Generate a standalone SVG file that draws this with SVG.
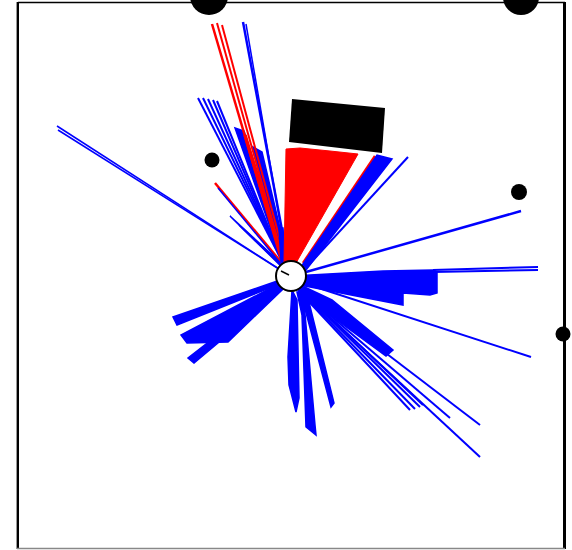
<svg xmlns="http://www.w3.org/2000/svg" width="572" height="550" viewBox="0 0 572 550">
<style>
.b{stroke:#0000ff;fill:none;stroke-linecap:butt}
.r{stroke:#ff0000;fill:none}
.bf{fill:#0000ff;stroke:#0000ff;stroke-width:1.5}
.rf{fill:#ff0000;stroke:#ff0000;stroke-width:1}
.ob{fill:#000}
</style>
<rect width="572" height="550" fill="#fff"/>
<g id="frame">
<line x1="18" y1="2.5" x2="565" y2="2.5" stroke="#000" stroke-width="1.5"/>
<line x1="18" y1="2" x2="18" y2="549" stroke="#000" stroke-width="2"/>
<line x1="16.5" y1="2" x2="16.5" y2="549" stroke="#999" stroke-width="1"/>
<line x1="564.5" y1="2" x2="564.5" y2="549" stroke="#000" stroke-width="3"/>
<line x1="17" y1="548.5" x2="565" y2="548.5" stroke="#888" stroke-width="1.5"/>
</g>
<g id="obstacles">
<circle class="ob" cx="209" cy="-4" r="19"/>
<circle class="ob" cx="521" cy="-3" r="18"/>
<circle class="ob" cx="212" cy="160" r="7.5"/>
<circle class="ob" cx="519" cy="192" r="8"/>
<circle class="ob" cx="563" cy="334" r="7.5"/>
<polygon class="ob" points="292,99 385,108 382,153 289,142"/>
</g>
<g id="rays">
<!-- upper-left cluster -->
<line class="b" x1="290" y1="276" x2="57" y2="126" stroke-width="1.5"/>
<line class="b" x1="290" y1="276" x2="58" y2="130" stroke-width="1.5"/>
<polygon class="bf" points="286,268 230,216 236,222 287,272"/>
<polygon class="bf" points="286,268 239,225 244,230 287,271"/>
<line class="r" x1="286" y1="268" x2="215" y2="183" stroke-width="2.5"/>
<line class="b" x1="286" y1="270" x2="218" y2="188" stroke-width="1.5"/>
<line class="b" x1="284" y1="265" x2="198" y2="98" stroke-width="2"/>
<line class="b" x1="284" y1="265" x2="203" y2="98" stroke-width="2"/>
<line class="b" x1="284" y1="265" x2="208" y2="99" stroke-width="2"/>
<line class="b" x1="284" y1="265" x2="213" y2="100" stroke-width="2"/>
<line class="b" x1="284" y1="265" x2="217" y2="101" stroke-width="2"/>
<polygon class="bf" points="283,264 235,128 244,131 287,264"/>
<polygon class="bf" points="284,262 253,147 262,152 288,262"/>
<line class="r" x1="282" y1="262" x2="212" y2="24" stroke-width="2.5"/>
<line class="r" x1="284" y1="262" x2="217" y2="23" stroke-width="2"/>
<line class="r" x1="286" y1="262" x2="222" y2="25" stroke-width="2"/>
<line class="r" x1="282" y1="258" x2="245" y2="135" stroke-width="3.5"/>
<line class="b" x1="288" y1="262" x2="243" y2="22" stroke-width="2.5"/>
<line class="b" x1="287" y1="262" x2="246" y2="24" stroke-width="1.5"/>
<polygon class="bf" points="281,262 279,228 283,228 285,262"/>
<!-- red wedge and upper right -->
<polygon class="rf" points="286,149 300,148 330,151 358,154 296,263 284,263"/>
<line class="r" x1="303" y1="263" x2="375" y2="156" stroke-width="2.5"/>
<polygon class="bf" points="301,267 377,155 392,159 306,270"/>
<line class="b" x1="306" y1="268" x2="408" y2="157" stroke-width="2"/>
<line class="b" x1="306" y1="272" x2="521" y2="211" stroke-width="2.5"/>
<!-- right mass -->
<polygon class="bf" points="292,276 383,271 433,270 437,272 437,293 430,295 403,293 403,305 300,285"/>
<line class="b" x1="433" y1="270" x2="538" y2="267" stroke-width="2"/>
<line class="b" x1="433" y1="272" x2="538" y2="270" stroke-width="2"/>
<line class="b" x1="300" y1="282" x2="531" y2="357" stroke-width="2"/>
<!-- lower right -->
<polygon class="bf" points="296,283 332,300 393,350 386,356 300,293"/>
<line class="b" x1="298" y1="286" x2="480" y2="425" stroke-width="2"/>
<line class="b" x1="298" y1="288" x2="480" y2="457" stroke-width="2"/>
<line class="b" x1="298" y1="288" x2="450" y2="418" stroke-width="2"/>
<line class="b" x1="298" y1="290" x2="410" y2="410" stroke-width="2"/>
<line class="b" x1="298" y1="289" x2="415" y2="409" stroke-width="2"/>
<line class="b" x1="298" y1="288" x2="420" y2="407" stroke-width="2"/>
<line class="b" x1="298" y1="287" x2="423" y2="405" stroke-width="2"/>
<!-- lower -->
<polygon class="bf" points="292,290 288,357 289,385 296,412 299,398 297,300"/>
<polygon class="bf" points="297,292 302,315 306,427 316,435 315,425 303,292"/>
<polygon class="bf" points="300,290 331,407 334,403 306,290"/>
<!-- lower left -->
<polygon class="bf" points="286,278 173,317 177,325 287,281"/>
<polygon class="bf" points="286,280 181,335 187,343 228,342 284,288"/>
<polygon class="bf" points="286,282 188,358 194,363 287,285"/>
</g>
<g id="robot">
<circle cx="291" cy="276" r="15" fill="#fff" stroke="#000" stroke-width="2"/>
<line x1="281" y1="271" x2="289" y2="275" stroke="#000" stroke-width="1.5"/>
</g>
</svg>
